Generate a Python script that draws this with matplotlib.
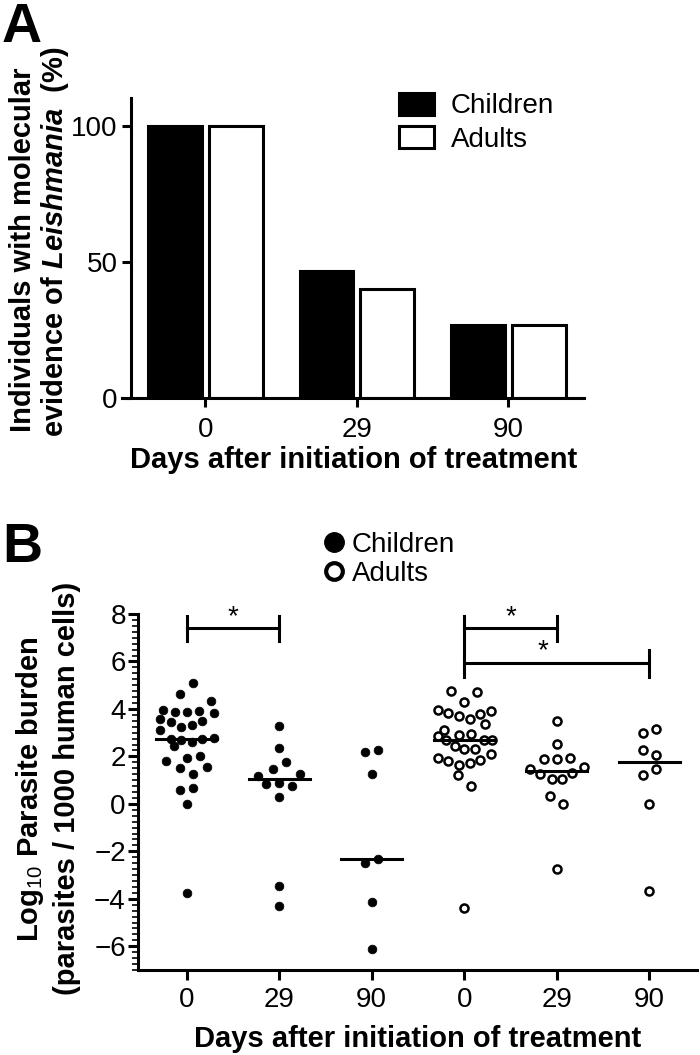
import matplotlib
matplotlib.use('Agg')
import matplotlib.pyplot as plt
import numpy as np
from matplotlib.lines import Line2D

plt.rcParams['font.family'] = ['Liberation Sans', 'DejaVu Sans']
plt.rcParams['mathtext.fontset'] = 'custom'
plt.rcParams['mathtext.rm'] = 'Liberation Sans'
plt.rcParams['mathtext.it'] = 'Liberation Sans:italic:bold'

# ---- panel A data ----
days = ['0', '29', '90']
children_pct = [100, 46.7, 26.7]
adults_pct = [100, 40.0, 26.7]

# ---- panel B data (log10 parasite burden) + horizontal spread ----
group_labels = ['0', '29', '90', '0', '29', '90']

ch0 = [5.11, 4.65, 4.34, 3.97, 3.87, 3.85, 3.92, 3.81, 3.58, 3.44, 3.24, 3.34, 3.48, 3.10, 2.74,
       2.68, 2.59, 2.74, 2.76, 2.43, 1.81, 1.95, 2.00, 1.53, 1.55, 1.27, 0.60, 0.68, 0.0, -3.76]
ch0_dx = [0.07, -0.07, 0.26, -0.26, -0.13, 0.0, 0.13, 0.29, -0.29, -0.17, -0.06, 0.06, 0.17, -0.29, -0.17,
          -0.06, 0.06, 0.17, 0.29, -0.14, -0.22, 0.0, 0.14, -0.07, 0.22, 0.07, -0.07, 0.07, 0.0, 0.0]

ch29 = [3.30, 2.36, 1.78, 1.48, 1.24, 1.16, 0.82, 0.90, 0.74, 0.29, -3.44, -4.32]
ch29_dx = [0.0, 0.0, 0.07, -0.07, 0.22, -0.23, -0.14, 0.0, 0.14, 0.0, 0.0, 0.0]

ch90 = [2.19, 2.26, 1.27, -2.50, -2.34, -4.14, -6.13]
ch90_dx = [-0.07, 0.07, 0.0, -0.07, 0.07, 0.0, 0.0]

ad0 = [4.76, 4.70, 4.28, 3.95, 3.83, 3.69, 3.59, 3.80, 3.92, 3.35, 3.13, 2.89, 2.93, 2.68, 2.43,
       2.33, 2.33, 2.68, 2.68, 2.12, 1.93, 1.81, 1.62, 1.72, 1.86, 1.20, 0.77, -4.40, 2.85]
ad0_dx = [-0.14, 0.14, 0.0, -0.28, -0.17, -0.06, 0.06, 0.17, 0.29, 0.23, -0.22, -0.06, 0.07, -0.2, -0.1,
          0.0, 0.12, 0.21, 0.30, 0.29, -0.28, -0.17, -0.06, 0.06, 0.17, -0.07, 0.07, 0.0, -0.28]

ad29 = [3.48, 2.54, 1.91, 1.91, 1.93, 1.49, 1.24, 1.06, 1.06, 1.30, 1.55, 0.32, 0.0, -2.74]
ad29_dx = [0.0, 0.0, -0.14, 0.0, 0.14, -0.29, -0.18, -0.055, 0.055, 0.17, 0.29, -0.07, 0.07, 0.0]

ad90 = [2.99, 3.14, 2.29, 2.05, 1.23, 1.49, 0.0, -3.68]
ad90_dx = [-0.07, 0.07, -0.07, 0.07, -0.07, 0.07, 0.0, 0.0]

W, H = 700, 1055
fig = plt.figure(figsize=(W / 100, H / 100), dpi=100)


def px_axes(l, t, r, b):
    return fig.add_axes([l / W, 1 - b / H, (r - l) / W, (b - t) / H])


LW = 2.2
FS = 20     # tick labels, legends
LFS = 21    # bold axis titles

# ================= panel A =================
axA = px_axes(122.1, 98.3, 584.4, 398)
x = np.arange(len(days))
axA.bar(x - 0.2, children_pct, width=0.355, color='black', edgecolor='black', lw=LW, label='Children')
axA.bar(x + 0.2, adults_pct, width=0.355, color='white', edgecolor='black', lw=LW, label='Adults')
axA.set_xlim(-0.55, 2.502)
axA.set_ylim(0, 110)
axA.spines['top'].set_visible(False)
axA.spines['right'].set_visible(False)
axA.spines['left'].set_position(('data', -0.493))
for s in ('left', 'bottom'):
    axA.spines[s].set_linewidth(LW)
axA.set_xticks(x)
axA.set_xticklabels(days)
axA.set_yticks([0, 50, 100])
axA.tick_params(length=6.5, width=LW, labelsize=FS, pad=3)
axA.tick_params(axis='x', pad=7)
axA.set_xlabel('Days after initiation of treatment', fontsize=LFS, fontweight='bold', labelpad=2)
axA.legend(loc='upper left', bbox_to_anchor=(0.575, 1.055), frameon=False, fontsize=FS,
           handlelength=1.26, handleheight=0.83, handletextpad=0.6, labelspacing=0.25,
           borderaxespad=0)

fig.text(23 / W, 1 - 250 / H, 'Individuals with molecular', rotation=90, ha='center', va='center',
         fontsize=LFS, fontweight='bold')
fig.text(55 / W, 1 - 242 / H, 'evidence of $\\mathit{Leishmania}$  (%)', rotation=90, ha='center',
         va='center', fontsize=LFS, fontweight='bold')
fig.text(2 / W, 1 - 2 / H, 'A', fontsize=40, fontweight='bold', ha='left', va='top')

# ================= panel B =================
axB = px_axes(138.3, 614, 696.7, 970)
groups = [(ch0, ch0_dx, 'black'), (ch29, ch29_dx, 'black'), (ch90, ch90_dx, 'black'),
          (ad0, ad0_dx, 'none'), (ad29, ad29_dx, 'none'), (ad90, ad90_dx, 'none')]
for i, (vals, dx, fc) in enumerate(groups):
    if fc == 'black':
        axB.plot(i + np.array(dx), vals, 'o', ms=6.3, mfc='black', mec='black', mew=0.5,
                 clip_on=False, zorder=3)
    else:
        axB.plot(i + np.array(dx), vals, 'o', ms=5.8, mfc='none', mec='black', mew=1.8,
                 clip_on=False, zorder=3)
    med = np.median(vals)
    axB.plot([i - 0.33, i + 0.33], [med, med], color='black', lw=LW, zorder=4)

axB.set_xlim(-0.524, 5.514)
axB.set_ylim(-7, 8)
axB.spines['top'].set_visible(False)
axB.spines['right'].set_visible(False)
for s in ('left', 'bottom'):
    axB.spines[s].set_linewidth(LW)
axB.set_xticks(range(6))
axB.set_xticklabels(group_labels)
axB.set_yticks(range(-6, 9, 2))
axB.set_yticks(np.arange(-7, 8.01, 0.25), minor=True)
axB.tick_params(length=7, width=LW, labelsize=FS, pad=2)
axB.tick_params(axis='x', pad=5)
axB.tick_params(axis='y', which='minor', length=4, width=1.2)
axB.set_xlabel('Days after initiation of treatment', fontsize=LFS, fontweight='bold', labelpad=9)

# significance brackets
bk = dict(color='black', lw=LW, clip_on=False)
axB.plot([0, 1], [7.4, 7.4], **bk)
axB.plot([0, 0], [6.87, 7.93], **bk)
axB.plot([1, 1], [6.87, 7.93], **bk)
axB.plot([3, 4], [7.4, 7.4], **bk)
axB.plot([3, 3], [5.35, 7.93], **bk)
axB.plot([4, 4], [6.87, 7.93], **bk)
axB.plot([3, 5], [5.95, 5.95], **bk)
axB.plot([5, 5], [5.35, 6.48], **bk)
for sx, sy in [(0.5, 7.57), (3.5, 7.57), (3.85, 6.12)]:
    axB.text(sx, sy, '*', ha='center', va='baseline', fontsize=FS)

handles = [Line2D([], [], ls='none', marker='o', ms=14, mfc='black', mec='black'),
           Line2D([], [], ls='none', marker='o', ms=12, mfc='white', mec='black', mew=3)]
axB.legend(handles, ['Children', 'Adults'], loc='lower left', bbox_to_anchor=(0.31, 1.045),
           frameon=False, fontsize=FS, handlelength=0.8, handletextpad=0.25, labelspacing=0.1,
           borderaxespad=0)

fig.text(30 / W, 1 - 789 / H, 'Log$_{10}$ Parasite burden', rotation=90, ha='center', va='center',
         fontsize=LFS, fontweight='bold')
fig.text(67 / W, 1 - 788 / H, '(parasites / 1000 human cells)', rotation=90, ha='center',
         va='center', fontsize=LFS, fontweight='bold')
fig.text(2 / W, 1 - 522 / H, 'B', fontsize=40, fontweight='bold', ha='left', va='top')

fig.savefig('out.png', dpi=100)
